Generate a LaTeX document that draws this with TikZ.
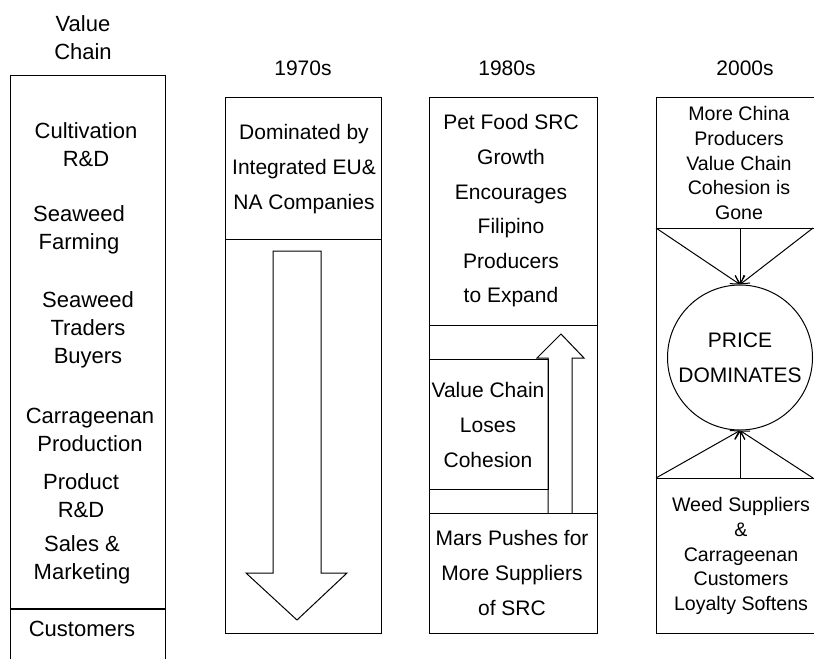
\documentclass[tikz,border=0pt]{standalone}
\usepackage{fontspec}
\setmainfont{Liberation Sans}
\usetikzlibrary{arrows.meta}

\begin{document}
\begin{tikzpicture}[x=0.5pt, y=-0.5pt, line width=0.5pt,
    yeartitle/.style={align=center, inner sep=0pt, font=\fontsize{10.5}{14}\selectfont},
    vctxt/.style={align=center, inner sep=0pt, font=\fontsize{11}{13.9}\selectfont},
    txt/.style={align=center, inner sep=0pt, font=\fontsize{10.5}{17.3}\selectfont},
    smalltxt/.style={align=center, inner sep=0pt, font=\fontsize{9.8}{12.4}\selectfont},
    arr/.style={-{Straight Barb[length=4pt,width=5pt]}}]

    \path[use as bounding box, clip] (0,0) rectangle (814,659);

    % Column titles
    \node[vctxt] (vctitle) at (83,38) {Value\\Chain};
    \node[yeartitle] (t70) at (303,68) {1970s};
    \node[yeartitle] (t80) at (507,68) {1980s};
    \node[yeartitle] (t00) at (745,68) {2000s};

    % Value chain column, open at the bottom
    \draw (10,659) -- (10,75) -- (165,75) -- (165,659);
    \draw[line width=1pt] (10,609) -- (165,609);
    \node[vctxt] (cult) at (86,145) {Cultivation\\R\&D};
    \node[vctxt] (farm) at (79,230) {Seaweed\\Farming};
    \node[vctxt] (trad) at (88,330) {Seaweed\\Traders\\Buyers};
    \node[vctxt] (carr) at (90,430) {Carrageenan\\Production};
    \node[vctxt] (prod) at (81,496) {Product\\R\&D};
    \node[vctxt] (sales) at (82,560) {Sales \&\\Marketing};
    \node[vctxt] (cust) at (82,629) {Customers};

    % 1970s column with hollow arrow pointing down
    \draw (225,97) rectangle (381,633);
    \draw (225,239) -- (381,239);
    \node[txt] (dom) at (304,169) {Dominated by\\Integrated EU\&\\NA Companies};
    \draw (273,251) -- (321,251) -- (321,573) -- (347,573) -- (297,620) -- (246,573) -- (273,573) -- cycle;

    % 1980s column with hollow arrow pointing up
    \draw (429,97) rectangle (597,633);
    \draw (429,325) -- (597,325);
    \draw (429,513) -- (597,513);
    \node[txt] (pet) at (511,211) {Pet Food SRC\\Growth\\Encourages\\Filipino\\Producers\\to Expand};
    \draw (548,513) -- (548,358) -- (537,358) -- (561,334) -- (584,358) -- (572,358) -- (572,513);
    \draw (429,359) rectangle (548,489);
    \node[txt, font=\fontsize{10.5}{17.5}\selectfont] (lose) at (488,425) {Value Chain\\Loses\\Cohesion};
    \node[txt] (mars) at (512,573) {Mars Pushes for\\More Suppliers\\of SRC};

    % 2000s column, price in the middle
    \draw (656,97) rectangle (818,633);
    \draw (656,228) -- (818,228);
    \draw (656,478) -- (818,478);
    \node[smalltxt] (china) at (739,163) {More China\\Producers\\Value Chain\\Cohesion is\\Gone};
    \node[draw, circle, minimum size=72.5pt, inner sep=0pt, align=center,
          font=\fontsize{10.5}{17.5}\selectfont] (price) at (740,357.5) {PRICE\\DOMINATES};
    \node[smalltxt] (weed) at (741,556) {Weed Suppliers\\\&\\Carrageenan\\Customers\\Loyalty Softens};

    % Pressure lines onto the circle
    \coordinate (ul) at (656,228);
    \coordinate (um) at (740,228);
    \coordinate (ur) at (813,228);
    \coordinate (ll) at (656,478);
    \coordinate (lm) at (740,478);
    \coordinate (lr) at (813,478);
    \draw[arr] (ul) -- (price.north);
    \draw[arr] (um) -- (price.north);
    \draw[arr] (ur) -- (price.north);
    \draw[arr] (ll) -- (price.south);
    \draw[arr] (lm) -- (price.south);
    \draw[arr] (lr) -- (price.south);

\end{tikzpicture}
\end{document}
